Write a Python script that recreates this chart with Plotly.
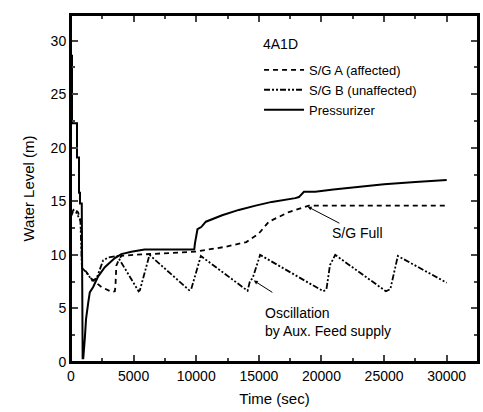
import plotly.graph_objects as go

# Pressurizer (solid)
t_pzr = [0, 80, 80, 480, 480, 640, 640, 720, 720, 860, 930, 980, 1110, 1200, 1370, 1500, 1770, 2040,
         2170, 2700, 3500, 4020, 4820, 5870, 9840, 9900, 10100, 10400, 10770, 12070, 13400, 14740,
         16030, 17910, 18200, 18600, 19500, 20950, 22500, 25000, 27500, 30000]
v_pzr = [28.6, 28.6, 22.3, 22.3, 19.1, 19.1, 15.8, 15.8, 14.8, 14.8, 0.35, 0.35, 2.3, 4.0, 5.5, 6.5, 7.0, 7.6,
         8.0, 8.85, 9.7, 10.07, 10.3, 10.5, 10.5, 11.1, 12.4, 12.6, 13.1, 13.7, 14.2, 14.6,
         14.95, 15.3, 15.4, 15.9, 15.9, 16.1, 16.3, 16.6, 16.8, 17.0]

# S/G A (affected, dashed)
t_sga = [0, 150, 350, 550, 700, 800, 880, 1100, 1600, 2430, 3230, 3500, 3550, 3620, 3800, 4020, 5000,
         7000, 9900, 12300, 14000, 15000, 15800, 17400, 18700, 19000, 30000]
v_sga = [13.6, 14.0, 14.2, 14.0, 13.5, 13.0, 8.8, 8.6, 7.8, 7.0, 6.55, 6.6, 7.1, 9.0, 9.5, 9.9, 10.0,
         10.1, 10.3, 10.75, 11.2, 12.0, 13.1, 14.0, 14.5, 14.6, 14.6]

# S/G B (unaffected, dash-dot)
t_sgb = [0, 200, 400, 600, 750, 870, 1200, 1700, 2040, 2570, 2970, 3700, 4020, 5400, 5500, 6270,
         9440, 9600, 10370, 14100, 14300, 14500, 15100, 20150, 20400, 20680, 21100, 25150, 25500,
         26100, 30000]
v_sgb = [13.8, 14.2, 14.0, 13.6, 13.2, 8.8, 8.4, 7.6, 7.8, 9.5, 9.75, 9.9, 9.3, 6.6, 6.7, 10.0,
         6.7, 6.8, 9.9, 6.65, 7.6, 7.8, 10.0, 6.6, 6.8, 9.05, 10.0, 6.6, 6.8,
         9.9, 7.4]

x_ticks = [0, 5000, 10000, 15000, 20000, 25000, 30000]
y_ticks = [0, 5, 10, 15, 20, 25, 30]
x_range = [0, 32500]
y_range = [0, 32.4]

fig = go.Figure()
fig.add_trace(go.Scatter(x=t_sga, y=v_sga, mode="lines", name="S/G A (affected)",
                         line=dict(color="black", width=1.8, dash="5px,4px")))
fig.add_trace(go.Scatter(x=t_sgb, y=v_sgb, mode="lines", name="S/G B (unaffected)",
                         line=dict(color="black", width=1.8, dash="6px,2px,2px,2px,2px,2px")))
fig.add_trace(go.Scatter(x=t_pzr, y=v_pzr, mode="lines", name="Pressurizer",
                         line=dict(color="black", width=2)))

ff = "Liberation Sans, Arial, sans-serif"
tick_font = dict(family=ff, size=14, color="black")
title_font = dict(family=ff, size=15, color="black")
leg_font = dict(family=ff, size=13, color="black")

common = dict(ticks="inside", ticklen=7, tickwidth=1.5, showline=True, linecolor="black",
              linewidth=2, showgrid=False, zeroline=False, mirror="allticks")

fig.update_layout(
    width=483, height=412,
    margin=dict(l=71, r=3, t=15, b=50),
    paper_bgcolor="white", plot_bgcolor="white",
    font=tick_font,
    showlegend=True,
    legend=dict(x=0.462, y=0.885, xanchor="left", yanchor="top",
                bgcolor="rgba(0,0,0,0)", font=leg_font, itemwidth=40, tracegroupgap=0),
    xaxis=dict(range=x_range, tickvals=x_ticks, ticktext=[str(v) for v in x_ticks],
               tickfont=tick_font,
               minor=dict(ticks="inside", ticklen=4, tickwidth=1.5, dtick=2500, tick0=0),
               title=dict(text="Time (sec)", font=title_font, standoff=11), **common),
    yaxis=dict(range=y_range, tickvals=y_ticks, ticktext=[str(v) for v in y_ticks],
               tickfont=tick_font,
               minor=dict(ticks="inside", ticklen=4, tickwidth=1.5, dtick=2.5, tick0=0),
               title=dict(text="Water Level (m)", font=title_font, standoff=12), **common),
)

# plot frame (top and right borders)
fig.add_shape(type="rect", xref="paper", yref="paper", x0=0, x1=1, y0=0, y1=1,
              line=dict(color="black", width=2), layer="above")

fig.add_annotation(x=0.466, y=0.915, xref="paper", yref="paper", text="4A1D", font=tick_font,
                   showarrow=False, xanchor="left", yanchor="middle")
fig.add_annotation(x=18900, y=14.5, xref="x", yref="y", text="S/G Full", font=tick_font,
                   showarrow=True, ax=50, ay=26, arrowhead=2, arrowsize=0.8, arrowwidth=1,
                   arrowcolor="black")
fig.add_annotation(x=14600, y=7.6, xref="x", yref="y", text=" ", font=tick_font,
                   showarrow=True, ax=22, ay=14, arrowhead=2, arrowsize=0.8, arrowwidth=1,
                   arrowcolor="black", standoff=0)
fig.add_annotation(x=15300, y=3.7, xref="x", yref="y", text="Oscillation<br>by Aux. Feed supply",
                   font=tick_font, showarrow=False, xanchor="left", yanchor="middle", align="left")

fig.write_html("out.html")
